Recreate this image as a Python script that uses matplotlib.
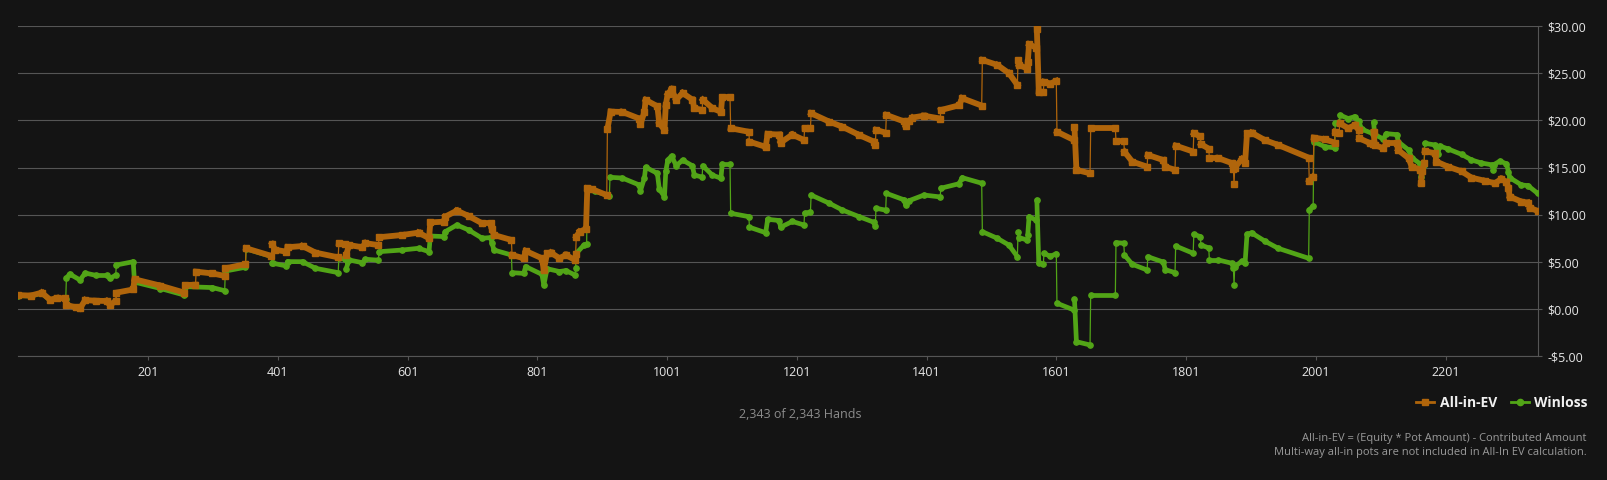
import matplotlib
matplotlib.use("Agg")
import matplotlib.pyplot as plt
import numpy as np
from matplotlib.collections import LineCollection
from matplotlib.lines import Line2D
from matplotlib.ticker import FuncFormatter

# All-in-EV (hand number, dollars)
ev_hands = [1, 20, 37, 50, 60, 73, 75, 90, 96, 104, 120, 137, 142, 151, 152, 178, 180, 220, 257, 258,
            274, 275, 300, 319, 320, 351, 352, 391, 392, 397, 414, 416, 439, 459, 494, 495, 505, 506, 511, 531,
            536, 556, 557, 593, 618, 634, 636, 657, 659, 677, 695, 716, 729, 731, 734, 761, 762, 780, 783, 808,
            811, 816, 822, 835, 845, 859, 860, 861, 866, 876, 878, 886, 908, 909, 914, 932, 958, 960, 966, 968,
            986, 989, 997, 999, 1002, 1008, 1015, 1025, 1040, 1043, 1055, 1056, 1071, 1084, 1086, 1098, 1099, 1127, 1128, 1153,
            1156, 1174, 1176, 1194, 1212, 1213, 1222, 1223, 1251, 1271, 1297, 1320, 1322, 1323, 1338, 1339, 1366, 1369, 1374, 1379,
            1397, 1422, 1423, 1451, 1456, 1486, 1487, 1510, 1528, 1541, 1542, 1543, 1556, 1557, 1559, 1570, 1571, 1574, 1581, 1582,
            1592, 1601, 1602, 1628, 1629, 1632, 1653, 1654, 1692, 1693, 1705, 1706, 1718, 1741, 1742, 1766, 1769, 1784, 1785, 1812,
            1813, 1823, 1824, 1836, 1837, 1851, 1872, 1874, 1875, 1876, 1887, 1892, 1895, 1902, 1923, 1943, 1990, 1991, 1997, 1998,
            2015, 2030, 2031, 2037, 2038, 2051, 2061, 2067, 2068, 2085, 2089, 2090, 2092, 2105, 2110, 2126, 2128, 2144, 2149, 2162,
            2163, 2165, 2168, 2169, 2185, 2187, 2205, 2226, 2241, 2262, 2277, 2287, 2295, 2298, 2300, 2318, 2328, 2331, 2343]
ev_vals = [1.5, 1.45, 1.76, 1.0, 1.2, 1.16, 0.46, 0.2, 0.1, 0.98, 0.9, 0.88, 0.46, 0.88, 1.76, 2.1, 3.18, 2.5, 1.76, 2.57,
           2.6, 3.98, 3.8, 3.53, 4.34, 4.77, 6.46, 5.65, 6.9, 6.3, 6.1, 6.57, 6.7, 6.0, 5.5, 6.99, 6.9, 5.75, 6.8, 6.57,
           7.0, 6.8, 7.63, 7.87, 8.12, 7.52, 9.2, 9.28, 9.81, 10.45, 9.88, 9.1, 9.1, 8.47, 7.87, 7.34, 5.75, 5.4, 6.18, 5.4,
           4.16, 5.93, 6.0, 5.4, 5.75, 5.22, 5.9, 7.69, 8.22, 8.5, 12.82, 12.7, 12.1, 19.1, 20.93, 20.9, 20.2, 19.6, 20.9, 22.17,
           21.5, 19.7, 19.0, 21.64, 22.8, 23.3, 22.2, 22.9, 22.2, 21.3, 21.1, 22.2, 21.3, 20.9, 22.46, 22.46, 19.17, 18.8, 17.75, 17.2,
           18.57, 18.5, 17.65, 18.5, 17.93, 19.17, 19.2, 20.76, 19.87, 19.34, 18.46, 17.75, 17.4, 19.0, 18.7, 20.58, 19.9, 19.4, 19.9, 20.3,
           20.5, 20.2, 21.1, 21.6, 22.35, 21.57, 26.4, 25.88, 25.0, 23.76, 26.4, 25.9, 25.5, 26.2, 28.07, 27.7, 29.69, 23.05, 23.0, 24.1,
           23.9, 24.2, 18.8, 17.93, 19.3, 14.76, 14.4, 19.17, 19.17, 17.83, 17.83, 16.7, 15.64, 15.1, 16.35, 15.8, 15.1, 14.76, 17.33, 16.7,
           18.64, 18.3, 17.5, 17.0, 16.0, 16.0, 15.47, 14.9, 13.24, 15.0, 15.9, 15.5, 18.64, 18.7, 17.9, 17.4, 16.06, 13.59, 14.05, 18.18,
           18.0, 17.65, 18.81, 18.7, 19.7, 19.17, 19.5, 19.0, 18.11, 17.58, 17.5, 18.8, 17.4, 17.05, 17.6, 17.6, 16.87, 16.0, 15.1, 14.8,
           13.35, 14.6, 15.5, 16.77, 16.5, 15.64, 15.1, 14.6, 13.94, 13.6, 13.35, 13.8, 13.5, 12.82, 11.93, 11.4, 11.3, 10.76, 10.41]

# Winloss
wl_hands = [1, 20, 37, 50, 60, 74, 75, 80, 96, 104, 120, 137, 142, 151, 152, 178, 180, 220, 257, 258,
            300, 319, 320, 351, 352, 391, 392, 394, 414, 416, 439, 459, 494, 495, 505, 506, 511, 531, 536, 556,
            557, 593, 618, 634, 636, 657, 659, 677, 695, 716, 729, 731, 734, 761, 762, 780, 783, 808, 811, 816,
            835, 845, 859, 860, 861, 873, 877, 878, 890, 912, 913, 932, 958, 960, 966, 968, 986, 989, 997, 999,
            1002, 1008, 1015, 1025, 1040, 1043, 1055, 1056, 1071, 1084, 1086, 1098, 1099, 1127, 1128, 1153, 1156, 1174, 1176, 1194,
            1212, 1213, 1222, 1223, 1251, 1271, 1297, 1320, 1322, 1323, 1338, 1339, 1366, 1369, 1374, 1397, 1422, 1423, 1451, 1456,
            1486, 1487, 1510, 1528, 1541, 1542, 1543, 1556, 1557, 1559, 1570, 1571, 1574, 1581, 1582, 1592, 1601, 1602, 1628, 1629,
            1632, 1653, 1654, 1692, 1693, 1705, 1706, 1718, 1741, 1742, 1766, 1769, 1784, 1785, 1812, 1813, 1823, 1824, 1836, 1837,
            1851, 1872, 1874, 1875, 1876, 1887, 1892, 1895, 1902, 1923, 1943, 1990, 1991, 1997, 1998, 2015, 2030, 2031, 2037, 2038,
            2051, 2061, 2067, 2072, 2089, 2090, 2092, 2105, 2110, 2126, 2128, 2144, 2149, 2162, 2163, 2165, 2168, 2169, 2185, 2189,
            2192, 2205, 2226, 2241, 2256, 2273, 2274, 2275, 2285, 2295, 2298, 2300, 2318, 2328, 2343]
wl_vals = [1.45, 1.4, 1.7, 0.95, 1.15, 1.1, 3.28, 3.74, 3.1, 3.84, 3.6, 3.6, 3.28, 3.6, 4.69, 5.04, 2.88, 2.2, 1.5, 2.4,
           2.3, 1.97, 4.05, 4.45, 6.4, 5.6, 4.9, 4.87, 4.59, 5.05, 5.04, 4.34, 3.88, 5.4, 5.3, 4.27, 5.22, 4.94, 5.3, 5.2,
           6.1, 6.28, 6.46, 6.1, 7.76, 7.7, 8.22, 8.93, 8.4, 7.52, 7.6, 7.06, 6.28, 5.75, 3.88, 3.8, 4.52, 3.7, 2.57, 4.3,
           4.0, 4.1, 3.63, 4.4, 5.93, 6.81, 6.9, 12.64, 12.5, 12.0, 13.98, 13.9, 13.17, 12.56, 13.9, 15.04, 14.4, 12.71, 11.93, 14.6,
           15.8, 16.24, 15.2, 15.8, 15.2, 14.22, 14.0, 15.2, 14.2, 13.88, 15.39, 15.39, 10.17, 9.81, 8.69, 8.11, 9.53, 9.4, 8.69, 9.3,
           8.93, 10.17, 10.3, 12.1, 11.23, 10.52, 9.81, 9.21, 8.86, 10.7, 10.5, 12.28, 11.6, 11.05, 11.5, 12.1, 11.9, 12.82, 13.3, 13.94,
           13.35, 8.22, 7.52, 6.8, 5.57, 8.2, 7.6, 7.34, 7.9, 9.81, 9.45, 11.58, 4.87, 4.8, 5.93, 5.6, 5.9, 0.64, -0.07, 1.09,
           -3.43, -3.78, 1.51, 1.51, 7.06, 7.0, 5.75, 4.77, 4.16, 5.57, 5.0, 4.2, 3.88, 6.7, 5.93, 7.94, 7.7, 6.8, 6.5, 5.22,
           5.22, 4.87, 4.4, 2.57, 4.5, 5.1, 4.9, 7.94, 8.1, 7.2, 6.46, 5.4, 10.52, 10.94, 17.75, 17.22, 17.1, 19.7, 19.8, 20.58,
           20.2, 20.4, 19.9, 19.07, 18.6, 19.8, 18.5, 18.04, 18.6, 18.5, 17.75, 16.87, 16.06, 15.4, 14.05, 15.2, 15.29, 17.58, 17.4, 16.42,
           17.3, 16.98, 16.4, 15.82, 15.5, 15.29, 14.8, 15.3, 15.7, 15.4, 14.58, 13.94, 13.17, 13.1, 12.28]

x_ticks = [201, 401, 601, 801, 1001, 1201, 1401, 1601, 1801, 2001, 2201]
y_ticks = [-5, 0, 5, 10, 15, 20, 25, 30]

BG = "#141414"
GRID = "#555555"
EV_COLOR = "#b0650b"
WL_COLOR = "#52a517"

plt.rcParams["font.family"] = ["Open Sans", "DejaVu Sans"]

fig = plt.figure(figsize=(16.08, 4.8), dpi=100, facecolor=BG)
ax = fig.add_axes([0.01144, 0.2573, 0.9448, 0.6885], facecolor=BG)


def draw(hands, vals, color, marker, ms, lw, cap, z):
    h = np.asarray(hands, float)
    v = np.asarray(vals, float)
    ax.plot(h, v, color=color, lw=0.9, zorder=z)
    pts = np.column_stack([h, v])
    segs = np.stack([pts[:-1], pts[1:]], axis=1)
    drift = np.diff(h) > 1
    ax.add_collection(LineCollection(segs[drift], colors=color, linewidths=lw,
                                     capstyle=cap, zorder=z))
    ax.plot(h, v, ls="none", marker=marker, ms=ms, color=color, mec=color, zorder=z)


draw(wl_hands, wl_vals, WL_COLOR, "o", 3.8, 3.4, "round", 3)
draw(ev_hands, ev_vals, EV_COLOR, "s", 4.2, 4.2, "projecting", 4)

ax.set_xlim(1, 2343)
ax.set_ylim(-5, 30)
ax.set_xticks(x_ticks)
ax.set_yticks(y_ticks)
ax.yaxis.tick_right()
ax.yaxis.set_major_formatter(FuncFormatter(lambda v, p: f"${v:.2f}" if v >= 0 else f"-${-v:.2f}"))
ax.yaxis.grid(True, color=GRID, lw=0.8, zorder=0)

for s in ["top", "left"]:
    ax.spines[s].set_visible(False)
for s in ["right", "bottom"]:
    ax.spines[s].set_color(GRID)
    ax.spines[s].set_linewidth(0.8)

ax.tick_params(axis="x", length=3, width=0.8, color=GRID, labelcolor="#e6e6e6", labelsize=9, pad=4)
ax.tick_params(axis="y", length=3, width=0.8, color=GRID, labelcolor="#e6e6e6", labelsize=9, pad=4)

handles = [Line2D([], [], color=EV_COLOR, lw=2, marker="s", ms=5),
           Line2D([], [], color=WL_COLOR, lw=2, marker="o", ms=4.5)]
fig.legend(handles, ["All-in-EV", "Winloss"], loc="center right",
           bbox_to_anchor=(1588 / 1608, 1 - 403 / 480), ncol=2, frameon=False,
           prop={"weight": "bold", "size": 10}, labelcolor="#f0f0f0",
           handlelength=1.3, handletextpad=0.4, columnspacing=1.0,
           borderpad=0, borderaxespad=0)

fig.text(800 / 1608, 1 - 415 / 480, "2,343 of 2,343 Hands", ha="center", va="center",
         color="#8c8c8c", fontsize=9)
fig.text(1587 / 1608, 1 - 438 / 480, "All-in-EV = (Equity * Pot Amount) - Contributed Amount",
         ha="right", va="center", color="#9a9a9a", fontsize=8)
fig.text(1587 / 1608, 1 - 453 / 480, "Multi-way all-in pots are not included in All-In EV calculation.",
         ha="right", va="center", color="#9a9a9a", fontsize=8)

fig.savefig("out.png", dpi=100, facecolor=BG)
